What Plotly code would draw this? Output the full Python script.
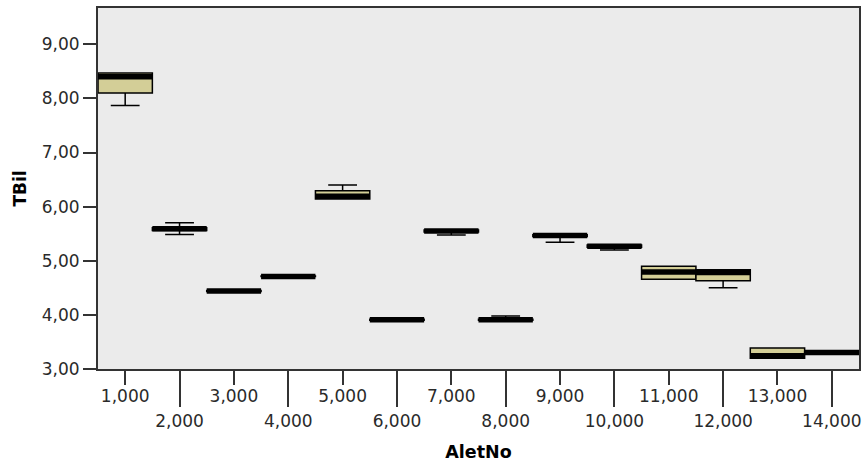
import plotly.graph_objects as go

# ---- data ----
categories = ["1,000", "2,000", "3,000", "4,000", "5,000", "6,000", "7,000",
              "8,000", "9,000", "10,000", "11,000", "12,000", "13,000", "14,000"]
q1 = [8.10, 5.56, 4.43, 4.71, 6.14, 3.90, 5.53, 3.90, 5.45, 5.25, 4.66, 4.63, 3.20, 3.30]
median = [8.40, 5.59, 4.44, 4.71, 6.19, 3.91, 5.55, 3.91, 5.465, 5.27, 4.79, 4.785, 3.243, 3.307]
q3 = [8.47, 5.61, 4.45, 4.72, 6.295, 3.92, 5.57, 3.92, 5.48, 5.29, 4.90, 4.835, 3.39, 3.31]
lower_whisker = [7.87, 5.485, 4.43, 4.71, 6.14, 3.90, 5.475, 3.90, 5.34, 5.20, 4.66, 4.50, 3.20, 3.30]
upper_whisker = [8.47, 5.70, 4.45, 4.72, 6.40, 3.92, 5.57, 3.98, 5.48, 5.29, 4.90, 4.835, 3.39, 3.31]
y_ticks = [3, 4, 5, 6, 7, 8, 9]
y_ticklabels = ["3,00", "4,00", "5,00", "6,00", "7,00", "8,00", "9,00"]
x_title = "AletNo"
y_title = "TBil"

positions = list(range(len(categories)))

FONT = "DejaVu Sans"
TXT = "#2a2a2a"

fig = go.Figure()
fig.add_trace(go.Box(
    x=positions, q1=q1, median=median, q3=q3,
    lowerfence=lower_whisker, upperfence=upper_whisker,
    width=1, whiskerwidth=0.53, boxpoints=False,
    fillcolor="#D3CE97", line=dict(color="black", width=1.5),
    showlegend=False, hoverinfo="skip",
))

# thick median bars (SPSS style)
mx, my = [], []
for p, m in zip(positions, median):
    mx += [p - 0.5, p + 0.5, None]
    my += [m, m, None]
fig.add_trace(go.Scatter(x=mx, y=my, mode="lines",
                         line=dict(color="black", width=5.5),
                         showlegend=False, hoverinfo="skip"))

odd_pos = positions[0::2]
even_pos = positions[1::2]

# invisible trace so the second (lower-row) x axis is rendered
fig.add_trace(go.Scatter(x=even_pos, y=[median[i] for i in even_pos],
                         xaxis="x2", mode="markers",
                         marker=dict(opacity=0, size=1),
                         showlegend=False, hoverinfo="skip"))

fig.update_layout(
    width=867, height=466,
    margin=dict(l=98, r=6, t=7, b=97),
    paper_bgcolor="white", plot_bgcolor="#EBEBEB",
    font=dict(family=FONT, size=17, color=TXT),
    xaxis=dict(
        range=[-0.5, len(categories) - 0.5],
        tickmode="array", tickvals=odd_pos,
        ticktext=[categories[i] for i in odd_pos],
        ticks="outside", ticklen=14, tickwidth=1.5, tickcolor="#333",
        ticklabelstandoff=-3,
        showline=True, mirror=True, linecolor="#333", linewidth=2,
        showgrid=False, zeroline=False,
        tickfont=dict(family=FONT, size=17, color=TXT),
    ),
    xaxis2=dict(
        overlaying="x", anchor="y", side="bottom",
        range=[-0.5, len(categories) - 0.5],
        tickmode="array", tickvals=even_pos,
        ticktext=[categories[i] for i in even_pos],
        ticks="outside", ticklen=37, tickwidth=1.5, tickcolor="#333",
        showline=False, showgrid=False, zeroline=False,
        tickfont=dict(family=FONT, size=17, color=TXT),
        title=dict(text="<b>" + x_title + "</b>", standoff=15,
                   font=dict(family=FONT, size=17.5, color="black")),
    ),
    yaxis=dict(
        range=[3, 9.67],
        tickmode="array", tickvals=y_ticks, ticktext=y_ticklabels,
        ticks="outside", ticklen=13, tickwidth=1.5, tickcolor="#333",
        showline=True, mirror=True, linecolor="#333", linewidth=2,
        showgrid=False, zeroline=False,
        tickfont=dict(family=FONT, size=17, color=TXT),
        title=dict(text="<b>" + y_title + "</b>", standoff=11,
                   font=dict(family=FONT, size=17, color="black")),
    ),
)

fig.write_html("out.html")
